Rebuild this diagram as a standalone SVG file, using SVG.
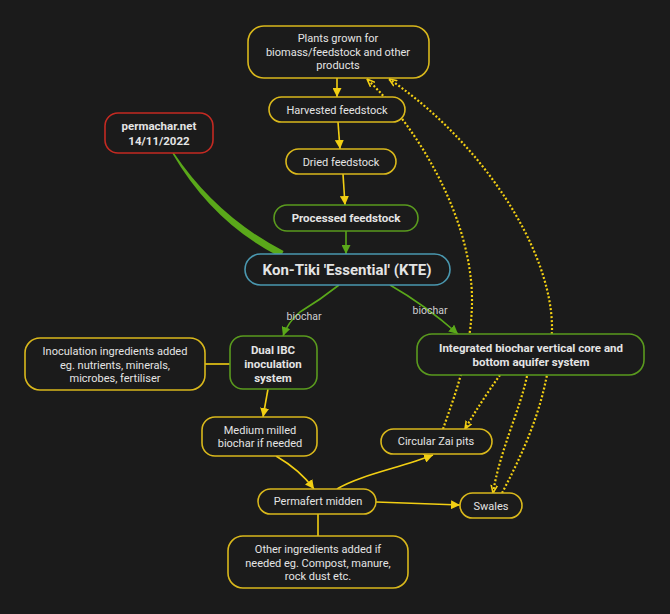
<svg xmlns="http://www.w3.org/2000/svg" width="670" height="614" viewBox="0 0 670 614">
<defs>
<style>
.n{fill:#1b1b1b;stroke-width:1.6}
.y{stroke:#d9b81c}
.g{stroke:#5a9a1e}
.r{stroke:#c42a22}
.t{stroke:#4a98b0}
text{font-family:Roboto,"Liberation Sans",sans-serif;fill:#e4e4e4;text-anchor:middle;font-size:11px}
.b{font-weight:bold;font-size:11.5px}
.k{font-weight:bold;font-size:15px}
.lbl{font-size:10.5px;fill:#cfcfcf}
.cy{fill:none;stroke:#f2cf13;stroke-width:1.6}
.cg{fill:none;stroke:#5aa81a;stroke-width:1.6}
.cd{fill:none;stroke:#f2cf13;stroke-width:2.2;stroke-dasharray:2 2}
</style>
<marker id="ay" viewBox="0 0 10 10" refX="10" refY="5" markerWidth="9" markerHeight="9" markerUnits="userSpaceOnUse" orient="auto"><path d="M0,0L10,5L0,10z" fill="#f2cf13"/></marker>
<marker id="ag" viewBox="0 0 10 10" refX="10" refY="5" markerWidth="9" markerHeight="9" markerUnits="userSpaceOnUse" orient="auto"><path d="M0,0L10,5L0,10z" fill="#5aa81a"/></marker>
<marker id="ad" viewBox="0 0 10 10" refX="10" refY="5" markerWidth="8" markerHeight="8" markerUnits="userSpaceOnUse" orient="auto"><path d="M0,1L10,5L0,9" fill="none" stroke="#f2cf13" stroke-width="2"/></marker>
</defs>
<rect width="670" height="614" fill="#1b1b1b"/>
<g id="connectors">
<path d="M173.6,152.6 Q217,217 283.6,250.9 L280.4,257.1 Q213,223 172.4,153.4 Z" fill="#5aa81a"/>
<path class="cy" d="M337,78 L337,97" marker-end="url(#ay)"/>
<path class="cy" d="M338,122 L340,149" marker-end="url(#ay)"/>
<path class="cy" d="M343,174 L345,205" marker-end="url(#ay)"/>
<path class="cg" d="M346,231 L346,254" marker-end="url(#ag)"/>
<path class="cg" d="M339,285 Q320,300 300,312 Q288,322 283,336" marker-end="url(#ag)"/>
<path class="cg" d="M390,285 Q425,305 458,334" marker-end="url(#ag)"/>
<path class="cy" d="M205,364 L230,364"/>
<path class="cy" d="M268,389 L263,417" marker-end="url(#ay)"/>
<path class="cy" d="M276,456 Q300,470 314,489" marker-end="url(#ay)"/>
<path class="cy" d="M337,489 C360,475 400,468 433,455" marker-end="url(#ay)"/>
<path class="cy" d="M376,502 L460,505" marker-end="url(#ay)"/>
<path class="cy" d="M318,514 L318,536"/>
<path class="cd" d="M443,429 C455,395 472,350 472,300 C472,220 420,130 367,79" marker-end="url(#ad)"/>
<path class="cd" d="M502,493 C530,440 550,390 552,330 C553,250 480,140 389,79" marker-end="url(#ad)"/>
<path class="cd" d="M500,375 Q482,400 465,429" marker-end="url(#ad)"/>
<path class="cd" d="M527,376 C520,410 500,450 493,493" marker-end="url(#ad)"/>
<text class="lbl" x="304" y="320">biochar</text>
<text class="lbl" x="430" y="314">biochar</text>
</g>
<g id="plants"><rect class="n y" x="248" y="26" width="181" height="52" rx="16"/><text x="338" y="42">Plants grown for</text><text x="338" y="56">biomass/feedstock and other</text><text x="338" y="69">products</text></g>
<g id="harvested"><rect class="n y" x="269" y="97" width="136" height="25" rx="12.5"/><text x="337" y="113.5">Harvested feedstock</text></g>
<g id="dried"><rect class="n y" x="286" y="149" width="110" height="25" rx="12.5"/><text x="341" y="165.5">Dried feedstock</text></g>
<g id="processed"><rect class="n g" x="274" y="205" width="144" height="26" rx="13"/><text class="b" x="346" y="222">Processed feedstock</text></g>
<g id="kte"><rect class="n t" x="245" y="254" width="205" height="31" rx="15.5"/><text class="k" x="347" y="275">Kon-Tiki 'Essential' (KTE)</text></g>
<g id="permachar"><rect class="n r" x="105" y="113" width="108" height="40" rx="13"/><text class="b" x="159" y="130">permachar.net</text><text class="b" x="159" y="145">14/11/2022</text></g>
<g id="dualibc"><rect class="n g" x="230" y="336" width="87" height="53" rx="13"/><text class="b" x="273" y="354">Dual IBC</text><text class="b" x="273" y="368">inoculation</text><text class="b" x="273" y="382">system</text></g>
<g id="inoculation"><rect class="n y" x="25" y="338" width="180" height="52" rx="15"/><text x="115" y="355">Inoculation ingredients added</text><text x="115" y="369">eg. nutrients, minerals,</text><text x="115" y="382">microbes, fertiliser</text></g>
<g id="integrated"><rect class="n g" x="417" y="334" width="227" height="41" rx="15"/><text class="b" x="531" y="352">Integrated biochar vertical core and</text><text class="b" x="531" y="366">bottom aquifer system</text></g>
<g id="medium"><rect class="n y" x="202" y="417" width="115" height="39" rx="13"/><text x="260" y="434">Medium milled</text><text x="260" y="447">biochar if needed</text></g>
<g id="zai"><rect class="n y" x="381" y="429" width="111" height="25" rx="12.5"/><text x="436" y="445">Circular Zai pits</text></g>
<g id="permafert"><rect class="n y" x="258" y="489" width="118" height="25" rx="12.5"/><text x="318" y="505">Permafert midden</text></g>
<g id="swales"><rect class="n y" x="460" y="493" width="62" height="25" rx="12.5"/><text x="491" y="509.5">Swales</text></g>
<g id="other"><rect class="n y" x="228" y="536" width="180" height="52" rx="15"/><text x="318" y="553">Other ingredients added if</text><text x="318" y="567">needed eg. Compost, manure,</text><text x="318" y="580">rock dust etc.</text></g>
</svg>
